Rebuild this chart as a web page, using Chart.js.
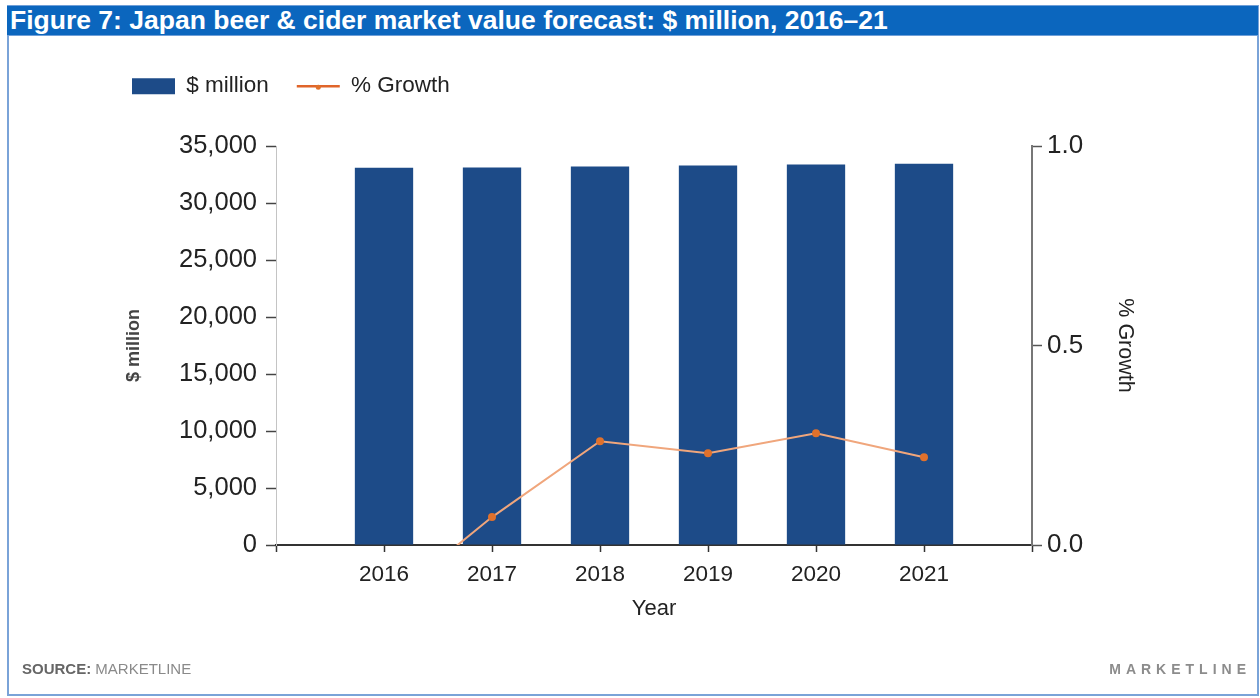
<!DOCTYPE html>
<html>
<head>
<meta charset="utf-8">
<script src="https://cdn.jsdelivr.net/npm/chart.js@4.4.1/dist/chart.umd.min.js"></script>
<style>
    html, body {
        margin: 0;
        padding: 0;
        background: #ffffff;
        font-family: "Liberation Sans", Arial, sans-serif;
    }

    #figure {
        position: relative;
        width: 1260px;
        height: 698px;
        overflow: hidden;
    }

    #frame {
        position: absolute;
        left: 7px;
        top: 5px;
        width: 1248px;
        height: 689px;
        border: 2px solid #7aa3d8;
        border-top: none;
    }

    #titleBar {
        position: absolute;
        left: 7px;
        top: 5px;
        width: 1251px;
        height: 31px;
        background: #0b66be;
        border-top: 1px solid #6f9fd8;
        border-bottom: 1px solid #6f9fd8;
        box-sizing: border-box;
    }

    #titleText {
        position: absolute;
        left: 3px;
        top: -1px;
        color: #ffffff;
        font-weight: bold;
        font-size: 26.5px;
        white-space: nowrap;
    }

    #source {
        position: absolute;
        left: 22px;
        top: 660px;
        font-size: 15px;
        color: #8a8a8a;
    }

    #source b {
        color: #666666;
    }

    #brand {
        position: absolute;
        right: 9px;
        top: 661px;
        font-size: 14px;
        font-weight: bold;
        letter-spacing: 5px;
        color: #8c8c8c;
    }

    #chart {
        position: absolute;
        left: 0;
        top: 0;
    }
</style>
</head>
<body>
<div id="figure">
    <div id="frame"></div>
    <div id="titleBar"><div id="titleText">Figure 7: Japan beer &amp; cider market value forecast: $ million, 2016–21</div></div>
    <canvas id="chart" width="1260" height="698"></canvas>
    <div id="source"><b>SOURCE:</b> MARKETLINE</div>
    <div id="brand">MARKETLINE</div>
</div>

<script>
const years = [2016, 2017, 2018, 2019, 2020, 2021];
const marketValue = [33100, 33123, 33209, 33285, 33378, 33451];   // $ million
const growth = [-0.15, 0.07, 0.26, 0.23, 0.28, 0.22];             // % growth

const valueTicks = { min: 0, max: 35000, step: 5000 };
const growthTicks = { min: 0, max: 1, step: 0.5 };
const yearRange = { min: 2015, max: 2022 };

const FONT = '"Liberation Sans", Arial, sans-serif';
const TEXT = '#222222';
const PLOT_TOP = 146;
const PAD_TOP = 47;

// legend box is stretched so the plot starts lower down
const legendSpacer = {
    id: 'legendSpacer',
    beforeInit(chart) {
        const fit = chart.legend.fit;
        chart.legend.fit = function () {
            fit.bind(chart.legend)();
            this.height = PLOT_TOP - PAD_TOP;
        };
    }
};

// small dot on the growth legend line
const legendDot = {
    id: 'legendDot',
    afterDraw(chart) {
        const legend = chart.legend;
        const box = legend.legendHitBoxes[1];
        if (!box) return;
        const opts = legend.options.labels;
        const ctx = chart.ctx;
        ctx.save();
        ctx.fillStyle = '#e0712c';
        ctx.beginPath();
        ctx.arc(box.left + opts.pointStyleWidth / 2, box.top + opts.font.size / 2 + 1, 2.5, 0, Math.PI * 2);
        ctx.fill();
        ctx.restore();
    }
};

const chart = new Chart(
    document.getElementById('chart'),
    {
        type: 'bar',

        data: {
            datasets: [
                {
                    type: 'bar',
                    label: '$ million',
                    data: years.map((y, i) => ({ x: y, y: marketValue[i] })),
                    backgroundColor: '#1d4b88',
                    borderWidth: 0,
                    barPercentage: 0.54,
                    categoryPercentage: 1.0,
                    yAxisID: 'yLeft',
                    order: 1
                },
                {
                    type: 'line',
                    label: '% Growth',
                    data: years.map((y, i) => ({ x: y, y: growth[i] })),
                    borderColor: '#f0a67c',
                    borderWidth: 2,
                    pointRadius: 4,
                    pointBackgroundColor: '#e0712c',
                    pointBorderColor: '#e0712c',
                    pointBorderWidth: 0,
                    tension: 0,
                    yAxisID: 'yRight',
                    order: 0
                }
            ]
        },

        options: {
            responsive: false,
            animation: false,

            layout: {
                padding: { left: 104, top: PAD_TOP, right: 0, bottom: 73 }
            },

            plugins: {
                tooltip: { enabled: false },
                legend: {
                    position: 'top',
                    align: 'start',
                    labels: {
                        usePointStyle: true,
                        pointStyleWidth: 43,
                        boxHeight: 16,
                        padding: 28,
                        color: TEXT,
                        font: { family: FONT, size: 22.5 },
                        sort: (a, b) => a.datasetIndex - b.datasetIndex,
                        generateLabels(chart) {
                            return chart.data.datasets.map((ds, i) => ({
                                text: ds.label,
                                datasetIndex: i,
                                fillStyle: ds.type === 'bar' ? ds.backgroundColor : 'rgba(0,0,0,0)',
                                strokeStyle: ds.type === 'bar' ? ds.backgroundColor : '#e0652a',
                                lineWidth: ds.type === 'bar' ? 0 : 2.5,
                                pointStyle: ds.type === 'bar' ? 'rect' : 'line',
                                fontColor: TEXT,
                                hidden: false
                            }));
                        }
                    }
                }
            },

            scales: {
                x: {
                    type: 'linear',
                    min: yearRange.min,
                    max: yearRange.max,
                    offset: false,
                    afterFit(scale) { scale.height = 80; },
                    ticks: {
                        stepSize: 1,
                        autoSkip: false,
                        maxRotation: 0,
                        padding: 9,
                        color: TEXT,
                        font: { family: FONT, size: 22.5 },
                        callback: (v) => (years.includes(v) ? String(v) : '')
                    },
                    grid: {
                        offset: false,
                        drawOnChartArea: false,
                        drawTicks: true,
                        tickLength: 7,
                        tickColor: '#333333',
                        tickWidth: 1.5
                    },
                    border: { color: '#333333', width: 2 },
                    title: {
                        display: true,
                        text: 'Year',
                        color: TEXT,
                        font: { family: FONT, size: 22 },
                        padding: { top: 0, bottom: 3 }
                    }
                },

                yLeft: {
                    type: 'linear',
                    position: 'left',
                    min: valueTicks.min,
                    max: valueTicks.max,
                    afterFit(scale) { scale.width = 172; },
                    ticks: {
                        stepSize: valueTicks.step,
                        padding: 9,
                        color: TEXT,
                        font: { family: FONT, size: 25.5 },
                        callback: (v) => v.toLocaleString('en-US')
                    },
                    grid: {
                        drawOnChartArea: false,
                        tickLength: 10,
                        tickColor: '#444444',
                        tickWidth: 1.5
                    },
                    border: { color: '#c4c4c4', width: 1 },
                    title: {
                        display: true,
                        text: '$ million',
                        color: '#444444',
                        font: { family: FONT, size: 18, weight: 'bold' },
                        padding: { top: 19, bottom: 0 }
                    }
                },

                yRight: {
                    type: 'linear',
                    position: 'right',
                    min: growthTicks.min,
                    max: growthTicks.max,
                    afterFit(scale) { scale.width = 228; },
                    ticks: {
                        stepSize: growthTicks.step,
                        padding: 5,
                        color: TEXT,
                        font: { family: FONT, size: 26 },
                        callback: (v) => v.toFixed(1)
                    },
                    grid: {
                        drawOnChartArea: false,
                        tickLength: 10,
                        tickColor: '#555555',
                        tickWidth: 1.5
                    },
                    border: { color: '#777777', width: 2 },
                    title: {
                        display: true,
                        text: '% Growth',
                        color: TEXT,
                        font: { family: FONT, size: 21.5 },
                        padding: { top: 122, bottom: 0 }
                    }
                }
            }
        },

        plugins: [legendSpacer, legendDot]
    }
);
</script>
</body>
</html>
